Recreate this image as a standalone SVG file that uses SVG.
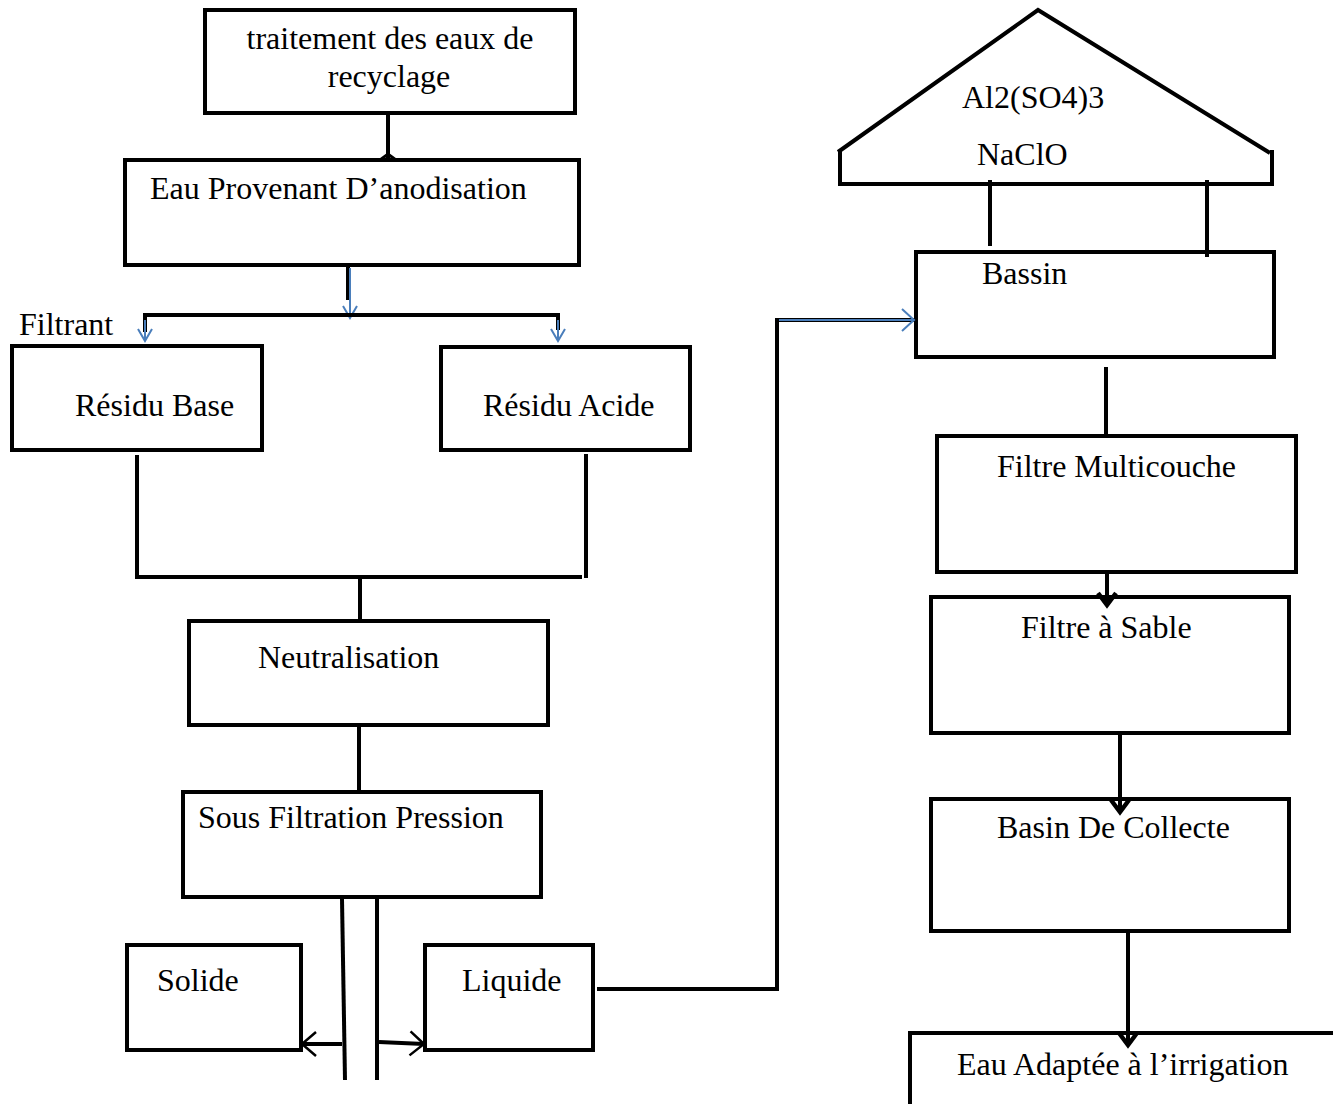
<svg xmlns="http://www.w3.org/2000/svg" width="1333" height="1104" viewBox="0 0 1333 1104">
<style>
.box{fill:#fff;stroke:#000;stroke-width:4}
.t{font-family:"Liberation Serif","Times New Roman",serif;font-size:32px;fill:#000}
.c{fill:none;stroke:#000;stroke-width:4}
.b{fill:none;stroke:#4a7ebb;stroke-width:2}
</style>
<defs>
<marker id="ab" markerWidth="20" markerHeight="20" refX="10" refY="18" orient="0" markerUnits="userSpaceOnUse" viewBox="0 0 20 20"><path d="M3,6 L10,18 L17,6" fill="none" stroke="#4a7ebb" stroke-width="2"/></marker>
<marker id="ak" markerWidth="24" markerHeight="24" refX="12" refY="20" orient="0" markerUnits="userSpaceOnUse" viewBox="0 0 24 24"><path d="M3,8 L12,20 L21,8" fill="none" stroke="#000" stroke-width="4.5"/></marker>
<marker id="ah" markerWidth="30" markerHeight="30" refX="26" refY="15" orient="auto" markerUnits="userSpaceOnUse" viewBox="0 0 30 30"><path d="M12,3 L26,15 L12,27" fill="none" stroke="#000" stroke-width="2.5"/></marker>
<marker id="abr" markerWidth="30" markerHeight="30" refX="26" refY="15" orient="auto" markerUnits="userSpaceOnUse" viewBox="0 0 30 30"><path d="M14,4 L26,15 L14,26" fill="none" stroke="#4a7ebb" stroke-width="2"/></marker>
</defs>
<g id="triangle">
<path class="c" d="M838,152 L1038,10 L1270,153"/>
<path class="c" d="M840,150 V184 H1272 V150"/>
<text class="t" x="962" y="108">Al2(SO4)3</text>
<text class="t" x="977" y="165">NaClO</text>
</g>
<g id="traitement"><rect class="box" x="205" y="10" width="370" height="103"/><text class="t" x="390" y="49" text-anchor="middle">traitement des eaux de</text><text class="t" x="389" y="87" text-anchor="middle">recyclage</text></g>
<g id="eau"><rect class="box" x="125" y="160" width="454" height="105"/><text class="t" x="150" y="199">Eau Provenant D’anodisation</text></g>
<g id="filtrant"><text class="t" x="19" y="335">Filtrant</text></g>
<g id="base"><rect class="box" x="12" y="346" width="250" height="104"/><text class="t" x="75" y="416">Résidu Base</text></g>
<g id="acide"><rect class="box" x="441" y="347" width="249" height="103"/><text class="t" x="483" y="416">Résidu Acide</text></g>
<g id="neutralisation"><rect class="box" x="189" y="621" width="359" height="104"/><text class="t" x="258" y="668">Neutralisation</text></g>
<g id="sous"><rect class="box" x="183" y="792" width="358" height="105"/><text class="t" x="198" y="828">Sous Filtration Pression</text></g>
<g id="solide"><rect class="box" x="127" y="945" width="174" height="105"/><text class="t" x="157" y="991">Solide</text></g>
<g id="liquide"><rect class="box" x="425" y="945" width="168" height="105"/><text class="t" x="462" y="991">Liquide</text></g>
<g id="bassin"><rect class="box" x="916" y="252" width="358" height="105"/><text class="t" x="982" y="284">Bassin</text></g>
<g id="multicouche"><rect class="box" x="937" y="436" width="359" height="136"/><text class="t" x="997" y="477">Filtre Multicouche</text></g>
<g id="sable"><rect class="box" x="931" y="597" width="358" height="136"/><text class="t" x="1021" y="638">Filtre à Sable</text></g>
<g id="collecte"><rect class="box" x="931" y="799" width="358" height="132"/><text class="t" x="997" y="838">Basin De Collecte</text></g>
<g id="irrigation"><rect class="box" x="910" y="1033" width="430" height="80"/><text class="t" x="957" y="1075">Eau Adaptée à l’irrigation</text></g>
<g id="connectors">
<path class="c" d="M388,113 V158"/>
<path d="M380,160 L388,154 L396,160" fill="none" stroke="#000" stroke-width="3"/>
<path class="c" d="M348,267 V300"/>
<path class="b" d="M350,268 V318" marker-end="url(#ab)"/>
<path class="c" d="M145,332 V315 H558 V330"/>
<path class="b" d="M145,320 V341" marker-end="url(#ab)"/>
<path class="b" d="M558,320 V341" marker-end="url(#ab)"/>
<path class="c" d="M137,455 V577 H582"/>
<path class="c" d="M586,454 V578"/>
<path class="c" d="M360,577 V619"/>
<path class="c" d="M359,727 V790"/>
<path class="c" d="M342,899 L345,1080"/>
<path class="c" d="M377,899 V1080"/>
<path class="c" d="M342,1044 H302" marker-end="url(#ah)"/>
<path class="c" d="M379,1042 L424,1044" marker-end="url(#ah)"/>
<path class="c" d="M597,989 H777 V320 H914"/>
<path class="b" d="M779,320 H914" marker-end="url(#abr)"/>
<path class="c" d="M990,180 V246"/>
<path class="c" d="M1207,180 V257"/>
<path class="c" d="M1106,367 V434"/>
<path class="c" d="M1107,574 V605" marker-end="url(#ak)"/>
<path class="c" d="M1120,735 V812" marker-end="url(#ak)"/>
<path class="c" d="M1128,933 V1045" marker-end="url(#ak)"/>
</g>
</svg>
